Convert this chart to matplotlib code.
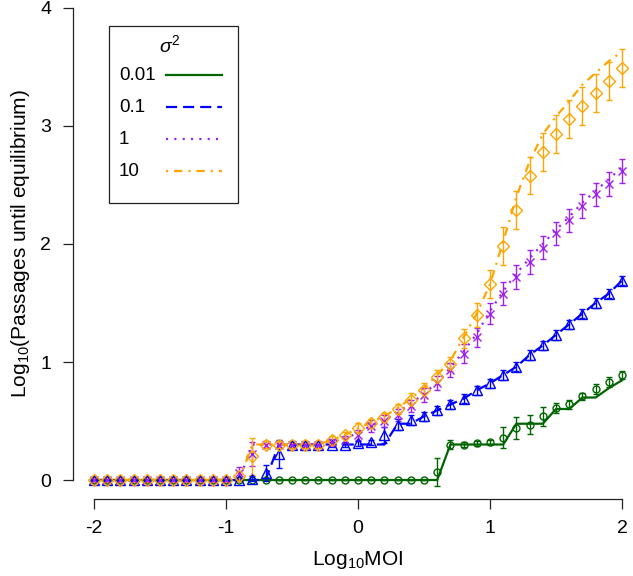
import matplotlib
matplotlib.use("Agg")
import matplotlib.pyplot as plt
from matplotlib.lines import Line2D
from matplotlib.patches import Rectangle

plt.rcParams['font.family'] = ['Liberation Sans', 'DejaVu Sans']
plt.rcParams['mathtext.fontset'] = 'custom'
plt.rcParams['mathtext.rm'] = 'Liberation Sans'
plt.rcParams['mathtext.it'] = 'Liberation Sans:italic'
plt.rcParams['mathtext.bf'] = 'Liberation Sans:bold'
plt.rcParams['axes.unicode_minus'] = False
plt.rcParams['lines.scale_dashes'] = False

# ---------------- data ----------------
log_moi = [-2.0, -1.9, -1.8, -1.7, -1.6, -1.5, -1.4, -1.3, -1.2, -1.1,
           -1.0, -0.9, -0.8, -0.7, -0.6, -0.5, -0.4, -0.3, -0.2, -0.1,
           0.0, 0.1, 0.2, 0.3, 0.4, 0.5, 0.6, 0.7, 0.8, 0.9,
           1.0, 1.1, 1.2, 1.3, 1.4, 1.5, 1.6, 1.7, 1.8, 1.9, 2.0]

sigma_labels = ['0.01', '0.1', '1', '10']

# sigma^2 = 0.01
s001_mean = [0]*26 + [0.07, 0.30, 0.30, 0.31, 0.32, 0.36, 0.44, 0.47, 0.54, 0.61,
                      0.64, 0.71, 0.77, 0.83, 0.89]
s001_line = [0]*27 + [0.301, 0.301, 0.301, 0.301, 0.301, 0.477, 0.477, 0.477,
                      0.602, 0.602, 0.699, 0.699, 0.778, 0.845]
s001_err = [0]*26 + [0.12, 0.04, 0.02, 0.02, 0.02, 0.09, 0.09, 0.08, 0.08, 0.04,
                     0.04, 0.03, 0.04, 0.04, 0.03]

# sigma^2 = 0.1
s01_mean = [0]*12 + [0.01, 0.06, 0.22, 0.30, 0.30, 0.30, 0.30, 0.30,
                     0.31, 0.32, 0.38, 0.47, 0.51, 0.54, 0.59, 0.64, 0.69, 0.76,
                     0.82, 0.89, 0.96, 1.06, 1.14, 1.23, 1.32, 1.41, 1.50, 1.58, 1.69]
s01_line = [0]*14 + [0.301]*9 + [0.477, 0.477, 0.54, 0.59, 0.64, 0.69, 0.76,
                                 0.82, 0.89, 0.96, 1.06, 1.14, 1.23, 1.32, 1.41,
                                 1.50, 1.58, 1.69]
s01_err = [0.01]*12 + [0.02, 0.07, 0.12, 0.02, 0.02, 0.02, 0.02, 0.02,
                       0.02, 0.02, 0.07, 0.05] + [0.04]*17

# sigma^2 = 1
s1_mean = [0]*11 + [0.06, 0.22, 0.30, 0.30, 0.30, 0.30, 0.30, 0.32, 0.34,
                    0.38, 0.46, 0.50, 0.55, 0.63, 0.72, 0.82, 0.93, 1.07, 1.21,
                    1.41, 1.58, 1.72, 1.85, 1.97, 2.09, 2.20, 2.32, 2.42, 2.51, 2.62]
s1_line = [0]*12 + [0.301]*6 + [0.32, 0.35,
                                0.40, 0.46, 0.51, 0.57, 0.65, 0.73, 0.83, 0.95, 1.09, 1.24,
                                1.43, 1.60, 1.75, 1.88, 2.00, 2.12, 2.23, 2.35, 2.45, 2.55,
                                2.65]
s1_err = [0.02]*11 + [0.05, 0.10] + [0.03]*7 + [0.04, 0.05, 0.05, 0.05, 0.05,
                                                0.06, 0.06, 0.06, 0.08, 0.08, 0.09] + [0.10]*10

# sigma^2 = 10
s10_mean = [0]*11 + [0.03, 0.20, 0.30, 0.30, 0.30, 0.30, 0.30, 0.34, 0.38,
                     0.44, 0.48, 0.53, 0.60, 0.68, 0.76, 0.87, 0.98, 1.20, 1.40,
                     1.66, 1.98, 2.29, 2.58, 2.78, 2.93, 3.06, 3.17, 3.28, 3.38, 3.49]
s10_line = [0]*12 + [0.301]*6 + [0.34, 0.38,
                                 0.44, 0.49, 0.54, 0.61, 0.69, 0.78, 0.89, 1.01, 1.21, 1.41,
                                 1.66, 2.02, 2.40, 2.70, 2.93, 3.08, 3.21, 3.35, 3.45, 3.55,
                                 3.63]
s10_err = [0.02]*11 + [0.04, 0.16] + [0.03]*7 + [0.04, 0.04, 0.04, 0.04,
                                                 0.06, 0.06, 0.06, 0.06, 0.08, 0.10,
                                                 0.12] + [0.16]*10

series = [
    (s001_mean, s001_line, s001_err, '#006400', '-', 'o', 5.0),
    (s01_mean, s01_line, s01_err, '#0000FF', (0, (8, 4.3)), '^', 7.0),
    (s1_mean, s1_line, s1_err, '#A020F0', (0, (1.5, 4.5)), 'x', 6.0),
    (s10_mean, s10_line, s10_err, '#FFA500', (0, (1.5, 4.3, 6, 4.3)), 'D', 6.5),
]

W, H = 633, 576
fig = plt.figure(figsize=(W / 100, H / 100), dpi=100)

# axes region in pixels (R-style 4% extension, partially cropped)
left_px, right_px, bottom_px, top_px = 72.9, 643.1, 498.9, -10.9
ax = fig.add_axes([left_px / W, 1 - bottom_px / H,
                   (right_px - left_px) / W, (bottom_px - top_px) / H])
ax.set_xlim(-2.16, 2.16)
ax.set_ylim(-0.16, 4.16)

for mean, line, err, col, ls, mk, ms in series:
    ax.plot(log_moi, line, color=col, linestyle=ls, linewidth=1.6, zorder=2)
    ax.errorbar(log_moi, mean, yerr=err, fmt='none', ecolor=col,
                elinewidth=1.0, capsize=2.5, capthick=1.0, zorder=3)
    ax.plot(log_moi, mean, linestyle='none', marker=mk, markersize=ms,
            markerfacecolor='none', markeredgecolor=col, markeredgewidth=1.0,
            zorder=4)

for s in ['top', 'right']:
    ax.spines[s].set_visible(False)
ax.spines['left'].set_bounds(0, 4)
ax.spines['bottom'].set_bounds(-2, 2)
for s in ['left', 'bottom']:
    ax.spines[s].set_linewidth(0.9)
    ax.spines[s].set_color('#222222')

ax.set_xticks([-2, -1, 0, 1, 2])
ax.set_yticks([0, 1, 2, 3, 4])
ax.set_xticklabels(['-2', '-1', '0', '1', '2'])
ax.set_yticklabels(['0', '1', '2', '3', '4'])
ax.tick_params(axis='both', direction='out', length=7.5, width=0.9,
               color='#222222', labelsize=14)
ax.tick_params(axis='y', pad=8)
ax.tick_params(axis='x', pad=8)

ax.set_xlabel(r'Log$_{10}$MOI', fontsize=15, labelpad=8)
ax.set_ylabel(r'Log$_{10}$(Passages until equilibrium)', fontsize=15, labelpad=6)

# legend drawn manually (pixel positions)
def fx(px):
    return px / W

def fy(py):
    return 1 - py / H

box_l, box_t, box_r, box_b = 109, 26, 238, 203
fig.patches.append(Rectangle((fx(box_l), fy(box_b)), fx(box_r) - fx(box_l),
                             fy(box_t) - fy(box_b), transform=fig.transFigure,
                             fill=True, facecolor='white', edgecolor='#222222',
                             linewidth=0.9, zorder=10))
fig.text(fx(170), fy(45), r'$\sigma^2$', fontsize=14, ha='center', va='center', zorder=11)
row_y = [75, 107, 139, 171]
for (mean, line, err, col, ls, mk, ms), lab, ry in zip(series, sigma_labels, row_y):
    fig.text(fx(119), fy(ry), lab, fontsize=13.5, ha='left', va='center', zorder=11)
    fig.lines.append(Line2D([fx(166), fx(222)], [fy(ry), fy(ry)],
                            transform=fig.transFigure, color=col, linestyle=ls,
                            linewidth=1.6, zorder=11))

fig.savefig('out.png', dpi=100)
